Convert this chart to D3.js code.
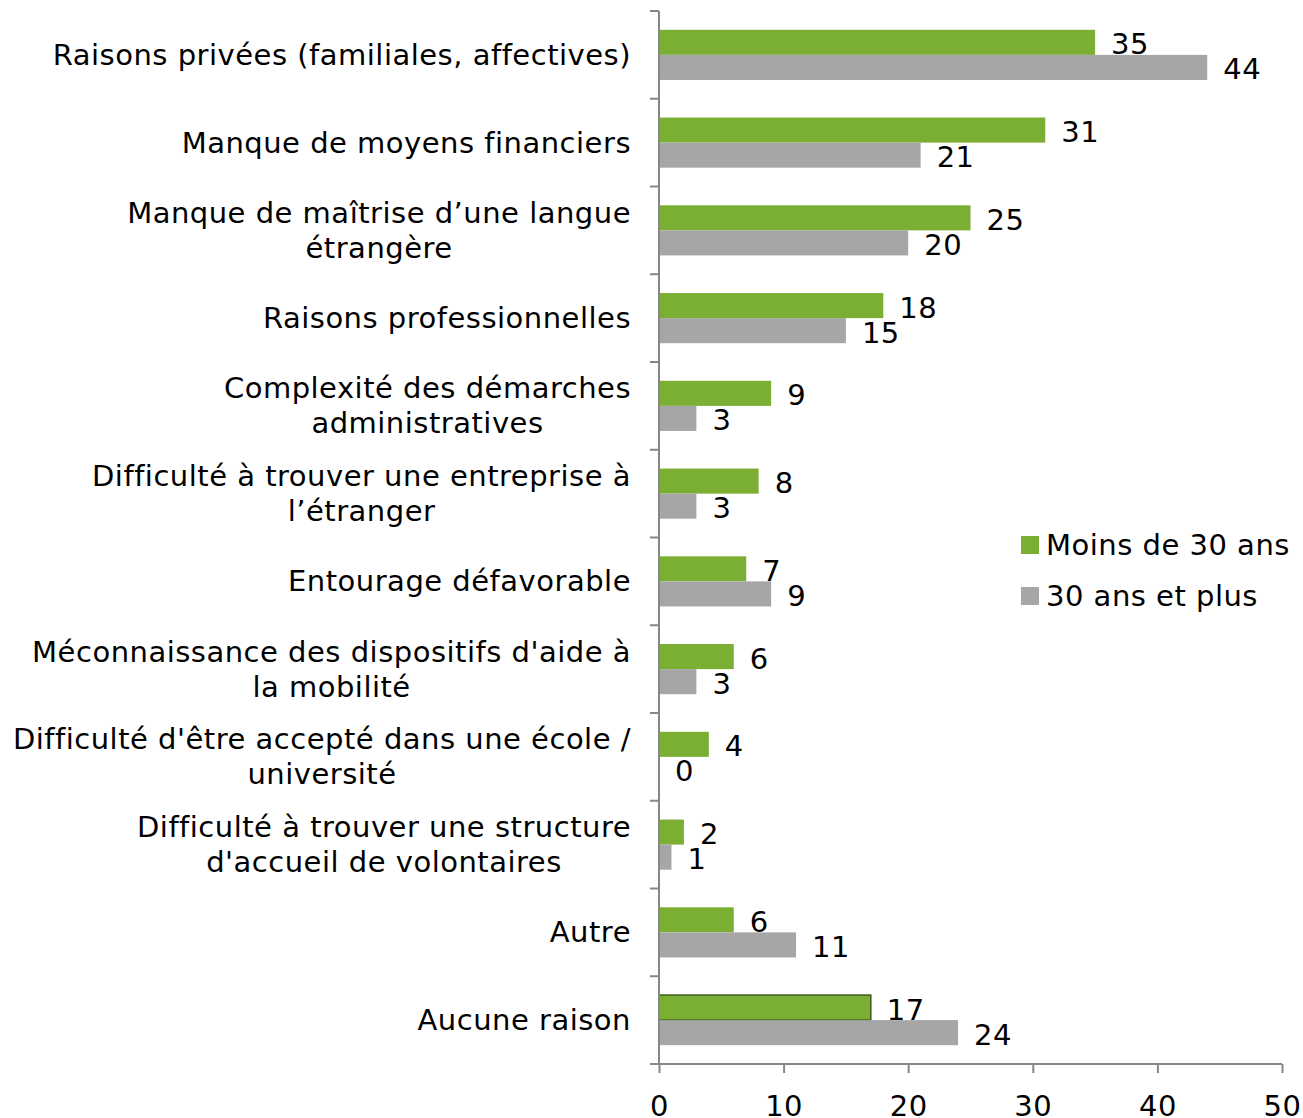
<!DOCTYPE html>
<style>
body { margin: 0; background: #fff; }
svg { font-family: "DejaVu Sans", Verdana, sans-serif; letter-spacing: 0.5px; }
.axis path, .axis line { stroke: #868686; stroke-width: 2px; }
.axis text { font-size: 29px; fill: #000; }
</style>
<svg width="1303" height="1118"></svg>
<script src="https://d3js.org/d3.v7.min.js"></script>
<script>

var categories = [
  ["Raisons privées (familiales, affectives)"],
  ["Manque de moyens financiers"],
  ["Manque de maîtrise d’une langue", "étrangère"],
  ["Raisons professionnelles"],
  ["Complexité des démarches", "administratives"],
  ["Difficulté à trouver une entreprise à", "l’étranger"],
  ["Entourage défavorable"],
  ["Méconnaissance des dispositifs d'aide à", "la mobilité"],
  ["Difficulté d'être accepté dans une école /", "université"],
  ["Difficulté à trouver une structure", "d'accueil de volontaires"],
  ["Autre"],
  ["Aucune raison"]
];
var moins30 = [35, 31, 25, 18, 9, 8, 7, 6, 4, 2, 6, 17];
var plus30 = [44, 21, 20, 15, 3, 3, 9, 3, 0, 1, 11, 24];
var seriesNames = ["Moins de 30 ans", "30 ans et plus"];
var colors = ["#7aaf33", "#a6a6a6"];
var xTicks = [0, 10, 20, 30, 40, 50];

var svg = d3.select("svg");
var plotLeft = 659, plotRight = 1282, plotTop = 11, plotBottom = 1064;
var fs = 29;

var x = d3.scaleLinear().domain([0, 50]).range([plotLeft, plotRight]);
var y = d3.scaleBand().domain(d3.range(categories.length)).range([plotTop, plotBottom]);
var inner = d3.scaleBand().domain([0, 1]).range([0, y.bandwidth()]).paddingOuter(0.75);

var series = [moins30, plus30];

// bars
series.forEach(function(vals, s) {
  svg.selectAll(".bar" + s)
    .data(vals)
    .enter().append("rect")
    .attr("class", "bar" + s)
    .attr("x", x(0))
    .attr("y", function(d, i) { return y(i) + inner(s); })
    .attr("width", function(d) { return x(d) - x(0); })
    .attr("height", inner.bandwidth())
    .attr("fill", colors[s])
    .attr("stroke", function(d, i) { return (s == 0 && i == vals.length - 1) ? "#3d5a1a" : "none"; })
    .attr("stroke-width", 1.5);

  svg.selectAll(".lab" + s)
    .data(vals)
    .enter().append("text")
    .attr("class", "lab" + s)
    .attr("x", function(d) { return x(d) + 16; })
    .attr("y", function(d, i) { return y(i) + inner(s) + inner.bandwidth() / 2 + 2; })
    .attr("dominant-baseline", "central")
    .attr("font-size", fs)
    .text(function(d) { return d; });
});

// y axis
var yAxis = svg.append("g").attr("class", "axis");
yAxis.append("line").attr("x1", plotLeft).attr("x2", plotLeft).attr("y1", plotTop).attr("y2", plotBottom);
yAxis.selectAll(".ytick")
  .data(d3.range(categories.length + 1))
  .enter().append("line")
  .attr("x1", plotLeft - 9).attr("x2", plotLeft)
  .attr("y1", function(i) { return plotTop + i * y.step(); })
  .attr("y2", function(i) { return plotTop + i * y.step(); });

// category labels
var lineH = 35;
categories.forEach(function(lines, i) {
  var cy = y(i) + y.bandwidth() / 2;
  var g = svg.append("g");
  var t = g.append("text")
    .attr("font-size", fs)
    .attr("text-anchor", "middle")
    .attr("dominant-baseline", "central");
  lines.forEach(function(l, j) {
    t.append("tspan")
      .attr("x", 0)
      .attr("y", cy + (j - (lines.length - 1) / 2) * lineH)
      .text(l);
  });
  var w = t.node().getBBox().width;
  g.attr("transform", "translate(" + (plotLeft - 28 - w / 2) + ",0)");
});

// x axis
var xAxis = svg.append("g")
  .attr("class", "axis")
  .attr("transform", "translate(0," + plotBottom + ")")
  .call(d3.axisBottom(x).tickValues(xTicks).tickSize(9).tickPadding(22).tickSizeOuter(0));
xAxis.select(".domain").attr("d", "M" + (plotLeft - 9) + ",0H" + plotRight);
xAxis.selectAll("text").attr("font-family", "DejaVu Sans, Verdana, sans-serif").attr("font-size", fs);

// legend
var legend = svg.append("g");
seriesNames.forEach(function(n, s) {
  var ly = 545 + s * 51;
  legend.append("rect").attr("x", 1021).attr("y", ly - 9).attr("width", 18).attr("height", 18).attr("fill", colors[s]);
  legend.append("text").attr("x", 1046).attr("y", ly).attr("dominant-baseline", "central")
    .attr("font-size", fs).text(n);
});

</script>
